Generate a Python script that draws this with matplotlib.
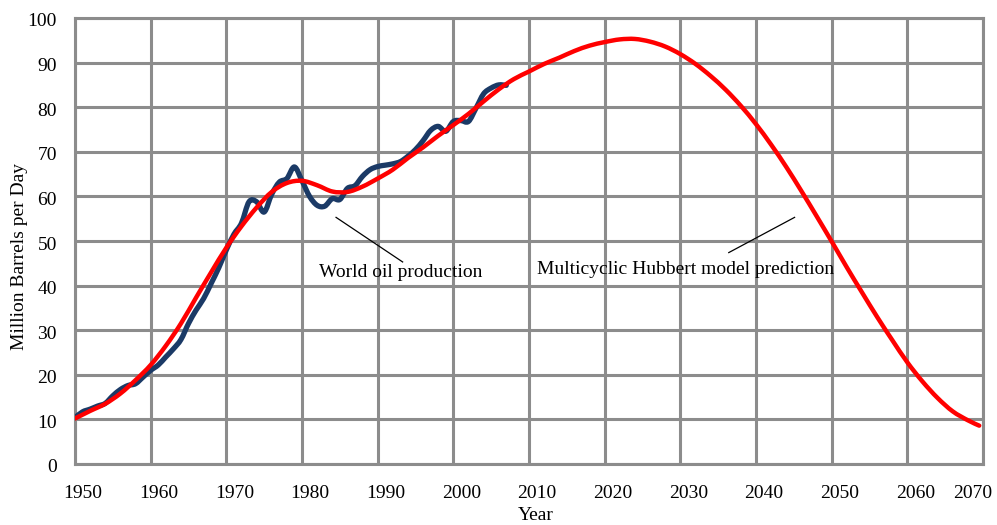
import matplotlib
matplotlib.use("Agg")
import matplotlib.pyplot as plt
import numpy as np
from matplotlib.path import Path
from matplotlib.patches import PathPatch
from matplotlib.transforms import ScaledTranslation

# World oil production (million barrels per day)
prod_years = list(range(1950, 2008))
prod_values = [10.4, 11.7, 12.3, 13.0, 13.6, 15.3, 16.7, 17.6, 18.0, 19.5,
               21.0, 22.2, 24.0, 25.8, 27.9, 31.5, 34.5, 37.1, 40.5, 44.0,
               48.0, 51.5, 54.0, 58.8, 58.8, 56.5, 60.5, 63.2, 64.0, 66.6,
               63.5, 60.0, 58.0, 57.8, 59.5, 59.3, 61.8, 62.4, 64.5, 66.0,
               66.7, 67.0, 67.3, 67.8, 69.0, 70.5, 72.5, 74.8, 75.7, 74.6,
               76.8, 77.0, 76.8, 79.8, 83.0, 84.3, 85.0, 84.9]

# Multicyclic Hubbert model prediction
model_years = [1950, 1952, 1954, 1956, 1958, 1960, 1962, 1964, 1966, 1968,
               1970, 1972, 1974, 1976, 1978, 1980, 1982, 1984, 1986, 1988,
               1990, 1992, 1994, 1996, 1998, 2000, 2002, 2004, 2006, 2008,
               2010, 2012, 2014, 2016, 2018, 2020, 2022, 2024, 2026, 2028,
               2030, 2032, 2034, 2036, 2038, 2040, 2042, 2044, 2046, 2048,
               2050, 2052, 2054, 2056, 2058, 2060, 2062, 2064, 2066, 2068,
               2069.5]
model_values = [10.2, 11.9, 13.5, 15.8, 18.8, 22.2, 26.5, 31.5, 37.3, 43.0,
                48.5, 53.3, 57.5, 61.0, 63.0, 63.5, 62.5, 61.1, 61.0, 62.2,
                64.0, 66.0, 68.6, 71.0, 73.6, 76.0, 78.5, 81.3, 84.0, 86.3,
                88.0, 89.7, 91.1, 92.6, 93.8, 94.6, 95.2, 95.3, 94.7, 93.6,
                91.9, 89.7, 87.0, 83.9, 80.3, 76.2, 71.6, 66.6, 61.2, 55.6,
                49.9, 44.1, 38.5, 33.0, 27.8, 22.8, 18.5, 14.8, 11.8, 9.8,
                8.6]

x_ticks = list(range(1950, 2071, 10))
y_ticks = list(range(0, 101, 10))


def smooth_path(xs, ys):
    """Catmull-Rom curve through the points, as cubic Bezier segments."""
    p = np.column_stack([xs, ys]).astype(float)
    ext = np.vstack([p[0], p, p[-1]])
    verts = [p[0]]
    codes = [Path.MOVETO]
    for i in range(1, len(ext) - 2):
        p0, p1, p2, p3 = ext[i - 1], ext[i], ext[i + 1], ext[i + 2]
        verts += [p1 + (p2 - p0) / 6, p2 - (p3 - p1) / 6, p2]
        codes += [Path.CURVE4] * 3
    return Path(verts, codes)


plt.rcParams["font.family"] = ["Liberation Serif", "DejaVu Serif"]

fig = plt.figure(figsize=(9.97, 5.25), dpi=100)
ax = fig.add_axes([75 / 997, 1 - 464 / 525, (983 - 75) / 997, (464 - 18) / 525])

grid_color = "#8c8c8c"
ax.set_xlim(1950, 2070)
ax.set_ylim(0, 100)
ax.set_xticks(x_ticks)
ax.set_yticks(y_ticks)
ax.grid(True, color=grid_color, linewidth=2.2)
ax.set_axisbelow(True)
for sp in ax.spines.values():
    sp.set_color(grid_color)
    sp.set_linewidth(2.2)
ax.tick_params(length=0, labelsize=14, colors="black")
ax.tick_params(axis="x", pad=15)
ax.tick_params(axis="y", pad=13)

# shift the year labels slightly right, keeping the last one inside the figure
for i, lab in enumerate(ax.get_xticklabels()):
    dx = 8 if i < len(x_ticks) - 1 else -10
    lab.set_transform(lab.get_transform() + ScaledTranslation(dx / 100, 0, fig.dpi_scale_trans))
for lab in ax.get_yticklabels():
    lab.set_transform(lab.get_transform() + ScaledTranslation(0, -2 / 100, fig.dpi_scale_trans))

ax.add_patch(PathPatch(smooth_path(prod_years, prod_values), facecolor="none",
                       edgecolor="#1b3a66", linewidth=3.8, joinstyle="round",
                       capstyle="round", zorder=3))
ax.add_patch(PathPatch(smooth_path(model_years, model_values), facecolor="none",
                       edgecolor="#ff0000", linewidth=3.2, joinstyle="round",
                       capstyle="round", zorder=4))

# callouts
ax.plot([1984.5, 1993.3], [55.3, 45.3], color="black", linewidth=0.9, zorder=5)
ax.text(1993.0, 43.0, "World oil production", fontsize=14, ha="center", va="center", zorder=6)
ax.plot([2036.4, 2045.1], [47.4, 55.3], color="black", linewidth=0.9, zorder=5)
ax.text(2030.7, 43.5, "Multicyclic Hubbert model prediction", fontsize=14,
        ha="center", va="center", zorder=6)

fig.text(536 / 997, 1 - 515 / 525, "Year", fontsize=14, ha="center", va="center")
fig.text(20 / 997, 1 - 257 / 525, "Million Barrels per Day", fontsize=14,
         ha="center", va="center", rotation=90)

fig.savefig("out.png", dpi=100)
